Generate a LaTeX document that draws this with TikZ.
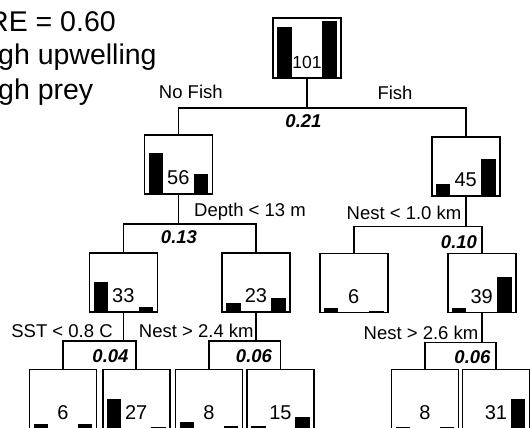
\documentclass[tikz,border=0pt]{standalone}
\usepackage{fontspec}
\setmainfont{Liberation Sans}
\usetikzlibrary{calc}

\begin{document}
\begin{tikzpicture}[
    x=1pt, y=-1pt,
    box/.style={rectangle, draw, line width=1.6pt, minimum width=68pt, minimum height=59pt, inner sep=0pt, text height=50pt, text depth=9pt, font=\fontsize{20}{23}\selectfont},
    leafbox/.style={box, minimum width=67pt},
    link/.style={line width=1.6pt},
    rule/.style={anchor=base, inner sep=0pt, font=\fontsize{18.5}{22}\selectfont},
    gain/.style={anchor=base, inner sep=0pt, font=\fontsize{18.5}{22}\selectfont\bfseries\itshape},
    note/.style={anchor=base west, inner sep=0pt, font=\fontsize{28.5}{34}\selectfont}
]
    \useasboundingbox (0,0) rectangle (531,428);

    % legend text, cut at the left edge
    \node[note] (cvre) at (-12,31.5) {RE = 0.60};
    \node[note] (upwell) at (-2,65) {gh upwelling};
    \node[note] (prey) at (-2,100) {gh prey};

    % tree boxes
    \node[box, minimum height=60pt, text height=51pt, font=\fontsize{17.5}{20}\selectfont] (root) at (307,48) {101};
    \node[box] (n56) at (178.3,164.5) {56};
    \node[box] (n45) at (465.7,166.3) {45};
    \node[box] (n33) at (123.3,282.2) {33};
    \node[box] (n23) at (256,282.2) {23};
    \node[box] (n6) at (353.7,282.8) {6};
    \node[box] (n39) at (481.7,282.8) {39};
    \node[leafbox] (b6) at (63,399) {6};
    \node[leafbox] (b27) at (136.2,399) {27};
    \node[leafbox] (b8) at (209,399) {8};
    \node[leafbox] (b15) at (280.5,399) {15};
    \node[leafbox] (b8r) at (425,399) {8};
    \node[leafbox] (b31) at (496,399) {31};

    % bars
    \foreach \n/\l/\r in {root/52/58, n56/42/21, n45/13/38, n33/31/6, n23/10/15, n6/5.5/2, n39/5/36,
                          b6/5/5, b27/30/2, b8/7.5/3.5, b15/3/12.5, b8r/2.5/2.5, b31/1.5/30} {
        \fill ([xshift=5pt]\n.south west) rectangle ++(14.5,-\l);
        \fill ([xshift=-5pt]\n.south east) rectangle ++(-14.5,-\r);
    }

    % split points
    \coordinate (s0) at ($(root.south)+(0,29.5)$);
    \coordinate (s1) at ($(n56.south)+(0,29)$);
    \coordinate (s2) at ($(n45.south)+(0,30)$);
    \coordinate (s3) at ($(n33.south)+(0,28.5)$);
    \coordinate (s4) at ($(n23.south)+(0,28.5)$);
    \coordinate (s5) at ($(n39.south)+(0,29.5)$);

    \draw[link] (root.south) -- (s0);
    \draw[link] (n56.north) |- (s0) -| (n45.north);
    \draw[link] (n56.south) -- (s1);
    \draw[link] (n33.north) |- (s1) -| (n23.north);
    \draw[link] (n45.south) -- (s2);
    \draw[link] (n6.north) |- (s2) -| (n39.north);
    \draw[link] (n33.south) -- (s3);
    \draw[link] (b6.north) |- (s3) -| (b27.north);
    \draw[link] (n23.south) -- (s4);
    \draw[link] (b8.north) |- (s4) -| (b15.north);
    \draw[link] (n39.south) -- (s5);
    \draw[link] (b8r.north) |- (s5) -| (b31.north);

    % split rules and values
    \node[rule] (nofish) at (190.8,99) {No Fish};
    \node[rule] (fish) at (395,100) {Fish};
    \node[gain] (g0) at (303.5,128) {0.21};
    \node[rule] (depth) at (250,216) {Depth < 13 m};
    \node[gain] (g1) at (179,243) {0.13};
    \node[rule] (nest1) at (404,219) {Nest < 1.0 km};
    \node[gain] (g2) at (459,248) {0.10};
    \node[rule] (sst) at (62,337) {SST < 0.8 C};
    \node[gain] (g3) at (110.5,362) {0.04};
    \node[rule] (nest24) at (196.3,337) {Nest > 2.4 km};
    \node[gain] (g4) at (254,362) {0.06};
    \node[rule] (nest26) at (421,339) {Nest > 2.6 km};
    \node[gain] (g5) at (472.5,363) {0.06};
\end{tikzpicture}
\end{document}
